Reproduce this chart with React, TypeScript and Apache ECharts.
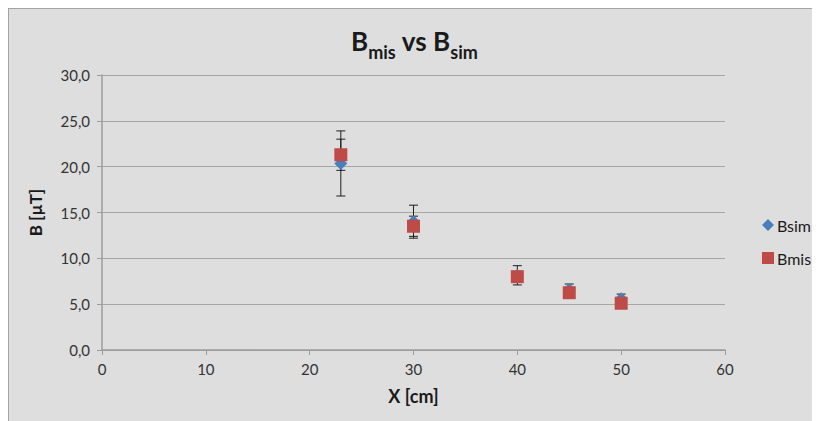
import React, { useEffect, useRef } from "react";
import * as echarts from "echarts";

const xValues = [23, 30, 40, 45, 50];
const bsimValues = [20.35, 14.0, 8.15, 6.6, 5.6];
const bsimErrors = [3.55, 1.8, 1.05, 0.6, 0.5];
const bmisValues = [21.3, 13.5, 8.0, 6.25, 5.1];
const bmisErrors = [1.7, 1.1, 0.5, 0.4, 0.35];
const xTicks = [0, 10, 20, 30, 40, 50, 60];
const yTicks = [0, 5, 10, 15, 20, 25, 30];

const FONT = "Lato, 'Open Sans', sans-serif";

function errorRender(params: any, api: any) {
  const x = api.value(0);
  const lo = api.value(1);
  const hi = api.value(2);
  const pLo = api.coord([x, lo]);
  const pHi = api.coord([x, hi]);
  const hw = 4.5;
  const style = { stroke: "#1e1e1e", lineWidth: 1 };
  return {
    type: "group",
    children: [
      { type: "line", shape: { x1: pLo[0], y1: pLo[1], x2: pHi[0], y2: pHi[1] }, style },
      { type: "line", shape: { x1: pLo[0] - hw, y1: pLo[1], x2: pLo[0] + hw, y2: pLo[1] }, style },
      { type: "line", shape: { x1: pHi[0] - hw, y1: pHi[1], x2: pHi[0] + hw, y2: pHi[1] }, style },
    ],
  };
}

export default function App() {
  const ref = useRef<HTMLDivElement>(null);
  useEffect(() => {
    if (!ref.current) return;
    const chart = echarts.init(ref.current, undefined, { renderer: "svg" });
    const bsimData = xValues.map((x, i) => [x, bsimValues[i]]);
    const bmisData = xValues.map((x, i) => [x, bmisValues[i]]);
    const bsimErr = xValues.map((x, i) => [x, bsimValues[i] - bsimErrors[i], bsimValues[i] + bsimErrors[i]]);
    const bmisErr = xValues.map((x, i) => [x, bmisValues[i] - bmisErrors[i], bmisValues[i] + bmisErrors[i]]);
    chart.setOption({
      animation: false,
      backgroundColor: "#dedede",
      textStyle: { fontFamily: FONT },
      title: {
        text: "{b|B}{s|mis}{b| vs B}{s|sim}",
        left: "center",
        top: 10,
        textStyle: {
          rich: {
            b: { fontFamily: FONT, fontSize: 26, fontWeight: "bold", color: "#1a1a1a", lineHeight: 30, verticalAlign: "bottom" },
            s: { fontFamily: FONT, fontSize: 18, fontWeight: "bold", color: "#1a1a1a", lineHeight: 30, verticalAlign: "bottom", padding: [0, 0, -7, 0] },
          },
        },
      },
      legend: {
        orient: "vertical",
        left: 748,
        top: 203,
        itemWidth: 12,
        itemHeight: 12,
        itemGap: 17,
        data: ["Bsim", "Bmis"],
        textStyle: { fontFamily: FONT, fontSize: 16, color: "#1a1a1a", padding: [0, 0, 0, -2] },
      },
      grid: { left: 93, top: 66, width: 623, height: 275, containLabel: false },
      xAxis: {
        type: "value",
        min: 0,
        max: 60,
        interval: 10,
        name: "X [cm]",
        nameLocation: "middle",
        nameGap: 37,
        nameTextStyle: { fontFamily: FONT, fontSize: 18, fontWeight: "bold", color: "#1a1a1a" },
        axisLine: { show: true, lineStyle: { color: "#9c9c9c", width: 1.5 } },
        axisTick: { show: true, length: 5, lineStyle: { color: "#9c9c9c" } },
        axisLabel: {
          fontFamily: FONT,
          fontSize: 15,
          color: "#333",
          margin: 11,
          formatter: (v: number) => (xTicks.includes(v) ? String(v) : ""),
        },
        splitLine: { show: false },
      },
      yAxis: {
        type: "value",
        min: 0,
        max: 30,
        interval: 5,
        name: "B [µT]",
        nameLocation: "middle",
        nameGap: 58,
        nameRotate: 90,
        nameTextStyle: { fontFamily: FONT, fontSize: 17, fontWeight: "bold", color: "#1a1a1a" },
        axisLine: { show: true, lineStyle: { color: "#9c9c9c", width: 1.5 } },
        axisTick: { show: true, inside: false, length: 5, lineStyle: { color: "#9c9c9c" } },
        axisLabel: {
          fontFamily: FONT,
          fontSize: 15,
          color: "#333",
          margin: 12,
          formatter: (v: number) => (yTicks.includes(v) ? v.toFixed(1).replace(".", ",") : ""),
        },
        splitLine: { show: true, lineStyle: { color: "#a6a6a6", width: 1 } },
      },
      series: [
        {
          type: "custom",
          name: "BsimErr",
          renderItem: errorRender,
          encode: { x: 0, y: [1, 2] },
          data: bsimErr,
          silent: true,
        },
        {
          type: "scatter",
          name: "Bsim",
          symbol: "diamond",
          symbolSize: 13,
          itemStyle: { color: "#4a7ebb", opacity: 1 },
          data: bsimData,
        },
        {
          type: "custom",
          name: "BmisErr",
          renderItem: errorRender,
          encode: { x: 0, y: [1, 2] },
          data: bmisErr,
          silent: true,
        },
        {
          type: "scatter",
          name: "Bmis",
          symbol: "rect",
          symbolSize: 13,
          itemStyle: { color: "#be4b48", opacity: 1 },
          data: bmisData,
        },
      ],
    });
    return () => chart.dispose();
  }, []);
  return (
    <div
      style={{
        width: 812,
        height: 413,
        boxSizing: "border-box",
        borderTop: "1px solid #a3a3a3",
        borderLeft: "1px solid #a3a3a3",
        background: "#dedede",
      }}
    >
      <div ref={ref} style={{ width: 811, height: 412 }} />
    </div>
  );
}
